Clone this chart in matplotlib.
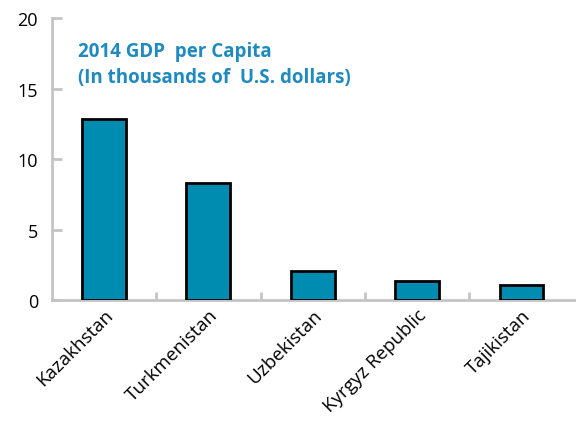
import numpy as np
import matplotlib.pyplot as plt

countries = ['Kazakhstan', 'Turkmenistan', 'Uzbekistan', 'Kyrgyz Republic', 'Tajikistan']
gdp = [12.85, 8.3, 2.07, 1.37, 1.07]

fig = plt.figure(figsize=(5.76, 4.35), dpi=100)
ax = fig.add_axes([0.090, 0.308, 0.915, 0.648])

x = np.arange(len(countries))
ax.bar(x, gdp, width=0.42, color='#008BB0', edgecolor='black', linewidth=2, zorder=3)

ax.set_xlim(-0.5, len(countries) - 0.5 + 0.05)
ax.set_ylim(0, 20)
ax.set_yticks([0, 5, 10, 15, 20])
ax.set_xticks(x)
ax.set_xticklabels(countries, rotation=45, ha='right', rotation_mode='anchor',
                   fontsize=13.5, family='Open Sans')
ax.set_xticks(np.arange(len(countries) - 1) + 0.5, minor=True)
ax.tick_params(axis='x', which='major', length=0, pad=4)
ax.tick_params(axis='x', which='minor', direction='in', length=6, width=2, color='#C4C4C4')
ax.tick_params(axis='y', direction='in', length=7, width=2, color='#C4C4C4', labelsize=13, pad=10)
for lab in ax.get_yticklabels():
    lab.set_family('Open Sans')

for s in ['top', 'right']:
    ax.spines[s].set_visible(False)
for s in ['left', 'bottom']:
    ax.spines[s].set_color('#C4C4C4')
    ax.spines[s].set_linewidth(2)

ax.text(0.05, 0.92, '2014 GDP  per Capita\n(In thousands of  U.S. dollars)',
        transform=ax.transAxes, color='#1F8AC0', fontsize=13.5, fontweight='bold',
        family='Open Sans', va='top', linespacing=1.45)

fig.savefig('out.png', dpi=100)
